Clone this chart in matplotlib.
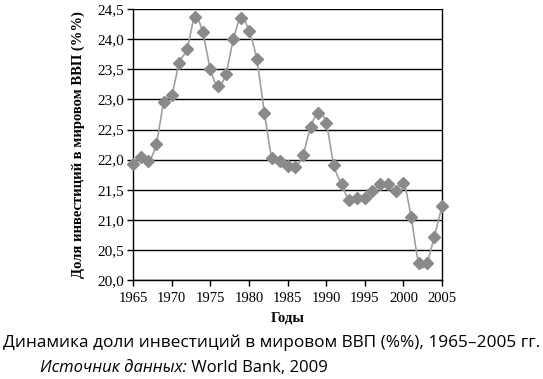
import numpy as np
import matplotlib
matplotlib.use("Agg")
import matplotlib.pyplot as plt

years = list(range(1965, 2006))
share = [21.93, 22.05, 21.97, 22.26, 22.95, 23.08, 23.61, 23.84, 24.37, 24.12,
         23.51, 23.22, 23.42, 24.00, 24.36, 24.14, 23.67, 22.78, 22.02, 21.97,
         21.89, 21.87, 22.08, 22.55, 22.77, 22.61, 21.91, 21.59, 21.33, 21.37,
         21.37, 21.48, 21.59, 21.59, 21.48, 21.62, 21.05, 20.28, 20.28, 20.72,
         21.23]
yticks = [20.0, 20.5, 21.0, 21.5, 22.0, 22.5, 23.0, 23.5, 24.0, 24.5]
xticks = list(range(1965, 2006, 5))


def smooth(x, y, n=12):
    # сглаженная линия как в Excel (Catmull-Rom)
    x = np.asarray(x, float)
    y = np.asarray(y, float)
    px = np.concatenate([[x[0]], x, [x[-1]]])
    py = np.concatenate([[y[0]], y, [y[-1]]])
    xs, ys = [], []
    t = np.linspace(0, 1, n, endpoint=False)
    for i in range(1, len(px) - 2):
        for p, out in ((px, xs), (py, ys)):
            p0, p1, p2, p3 = p[i - 1], p[i], p[i + 1], p[i + 2]
            out.extend(0.5 * (2 * p1 + (-p0 + p2) * t
                              + (2 * p0 - 5 * p1 + 4 * p2 - p3) * t ** 2
                              + (-p0 + 3 * p1 - 3 * p2 + p3) * t ** 3))
    xs.append(x[-1])
    ys.append(y[-1])
    return xs, ys


fig = plt.figure(figsize=(5.43, 3.79), dpi=100)
ax = fig.add_axes([0.245, 0.261, 0.569, 0.715])

serif = "Liberation Serif"

for v in yticks:
    ax.axhline(v, color="black", lw=1.0, zorder=1)

sx, sy = smooth(years, share)
ax.plot(sx, sy, color="#a0a0a0", lw=1.2, zorder=2)
ax.plot(years, share, linestyle="none", marker="D", markersize=6.3,
        color="#8a8a8a", markeredgecolor="#8a8a8a", zorder=3, clip_on=False)

ax.set_xlim(1965, 2005)
ax.set_ylim(20.0, 24.5)
ax.set_xticks(xticks)
ax.set_yticks(yticks)
ax.set_xticklabels([str(x) for x in xticks], fontfamily=serif, fontsize=10.5)
ax.set_yticklabels([f"{v:.1f}".replace(".", ",") for v in yticks],
                   fontfamily=serif, fontsize=11)
ax.tick_params(direction="out", length=4.5, width=1, color="black", pad=2)
ax.tick_params(axis="x", pad=4)
for s in ax.spines.values():
    s.set_color("black")
    s.set_linewidth(1.0)
ax.spines["top"].set_visible(False)

ax.set_xlabel("Годы", fontfamily=serif, fontweight="bold", fontsize=10.5, labelpad=5)
ax.set_ylabel("Доля инвестиций в мировом ВВП (%%)", fontfamily=serif,
              fontweight="bold", fontsize=10.5, labelpad=9)

fig.text(0.5, 0.095, "Динамика доли инвестиций в мировом ВВП (%%), 1965–2005 гг.",
         ha="center", va="center", fontfamily="Open Sans", fontsize=12.4)
src = fig.text(40 / 543, 0.03, "Источник данных:", ha="left", va="center",
               fontfamily="Open Sans", fontsize=12, fontstyle="italic")
fig.canvas.draw()
ax.annotate(" World Bank, 2009", xy=(1, 0), xycoords=src, va="bottom",
            fontfamily="Open Sans", fontsize=12, annotation_clip=False)

fig.savefig("out.png", dpi=100)
